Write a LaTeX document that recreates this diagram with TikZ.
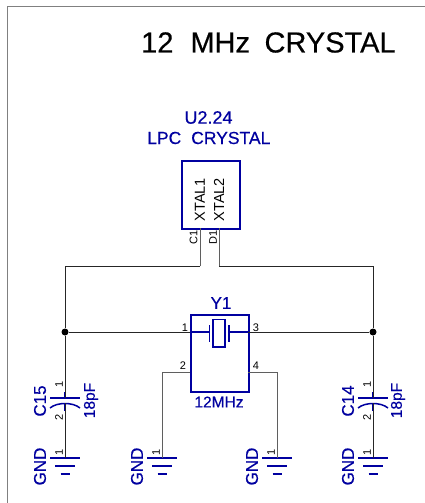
\documentclass[tikz,border=0pt]{standalone}
\usepackage{fontspec}
\setmainfont{Liberation Sans}
\newfontfamily\heavyf[FakeBold=0.4]{Liberation Sans}
\definecolor{sblue}{RGB}{0,0,160}
\definecolor{wiregray}{RGB}{95,95,95}
\newcommand{\wfs}[1]{\fontsize{#1}{#1}\selectfont}
\tikzset{
  x=1pt,y=-1pt,
  wire/.style={line width=1pt,black!85},
  pinwire/.style={line width=1pt,wiregray},
  sym/.style={line width=1.5pt,sblue},
  partbox/.style={draw=sblue,line width=1.8pt,fill=none,inner sep=0pt,anchor=north west},
  bluetxt/.style={text=sblue,inner sep=0pt,font=\heavyf\wfs{17}},
  pinnum/.style={text=black,inner sep=0pt,font=\wfs{11}},
  pinname/.style={text=black,inner sep=0pt,font=\wfs{14.5},rotate=90,anchor=west},
  junction/.style={circle,fill=black,inner sep=0pt,minimum size=7pt},
  gndv/.style={bluetxt,rotate=90},
}
\newcommand{\gndsym}[2]{% x, name
  \coordinate (#2) at (#1,458);
  \draw[sym] (#1-15,458) -- (#1+15,458);
  \draw[sym] (#1-10,466) -- (#1+10,466);
  \draw[sym] (#1-4.5,474) -- (#1+4.5,474);
  \node[pinnum,rotate=90] at (#1-6,452) {1};
  \node[gndv] at (#1-25,466.5) {GND};
}
\newcommand{\capsym}[4]{% x, name, ref, textx
  \coordinate (#2a) at (#1,398);
  \coordinate (#2b) at (#1,403);
  \draw[sym] (#1-15,398) -- (#1+15,398);
  \draw[sym] (#1-15,408) .. controls (#1-8,402) and (#1+8,402) .. (#1+15,408);
  \draw[sym] (#1,392) -- (#2a);
  \draw[sym] (#2b) -- (#1,411);
  \node[pinnum,rotate=90] at (#1-6,384) {1};
  \node[pinnum,rotate=90] at (#1-6,417) {2};
  \node[gndv] at (#1-25,401) {#3};
  \node[gndv,font=\heavyf\wfs{15.5}] at (#4,400.5) {18pF};
}
\begin{document}
\begin{tikzpicture}
\useasboundingbox (0,0) rectangle (425,503);
\fill[white] (0,0) rectangle (425,503);
% sheet frame
\coordinate (fa) at (7.5,503);
\coordinate (fb) at (7.5,6.5);
\coordinate (fc) at (425,6.5);
\draw[line width=1.6pt,black!50] (fa) -- (fb) -- (fc);
% title
\node[inner sep=0pt,text=black,anchor=west,font=\heavyf\wfs{29}] (title) at (141,42.5) {12\hspace{17pt}MHz\hspace{14.5pt}CRYSTAL};
% U2
\node[bluetxt,font=\heavyf\wfs{18}] (u2a) at (208.5,117.5) {U2.24};
\node[bluetxt,anchor=west,font=\heavyf\wfs{17.5}] (u2b) at (147,138) {LPC\hspace{10pt}CRYSTAL};
\node[partbox,minimum width=58pt,minimum height=68pt] (u2) at (181,160) {};
\node[pinname] (x1) at (200,221.5) {XTAL1};
\node[pinname] (x2) at (219,221.5) {XTAL2};
\coordinate (p1) at (200,228);
\coordinate (p2) at (219,228);
\coordinate (c1) at (200,266);
\coordinate (c2) at (219,266);
\node[pinnum,rotate=90] (lc1) at (193.5,237.5) {C1};
\node[pinnum,rotate=90] (ld1) at (213,237.5) {D1};
% Junctions
\node[junction] (ja) at (65,332) {};
\node[junction] (jb) at (373,332) {};
\coordinate (wl) at (65,266);
\coordinate (wr) at (373,266);
% Crystal
\node[bluetxt] (y1) at (221,303) {Y1};
\node[partbox,minimum width=58pt,minimum height=77pt] (y) at (190,314) {};
\node[bluetxt,font=\heavyf\wfs{15.5}] (ymhz) at (219,402) {12MHz};
\coordinate (y1l) at (190,332);
\coordinate (y3r) at (248,332);
\coordinate (y2l) at (190,372);
\coordinate (y4r) at (248,372);
\coordinate (pl) at (209.5,332);
\coordinate (pr) at (229,332);
\draw[sym] (y1l) -- (pl);
\draw[sym] (pr) -- (y3r);
\draw[sym] (209.5,325) -- (209.5,342);
\draw[sym] (229,325) -- (229,342);
\draw[sym] (213,319.5) rectangle (225,347);
\node[pinnum] at (185,328) {1};
\node[pinnum] at (256,328) {3};
\node[pinnum] at (183,366) {2};
\node[pinnum] at (256,366) {4};
% Symbols
\capsym{65}{capl}{C15}{91}
\capsym{373}{capr}{C14}{398}
\gndsym{65}{g1}
\gndsym{162}{g2}
\gndsym{277}{g3}
\gndsym{373}{g4}
% Wires
\draw[pinwire] (p1) -- (c1);
\draw[pinwire] (p2) -- (c2);
\draw[wire] (c1) -- (wl) -- (ja);
\draw[wire] (c2) -- (wr) -- (jb);
\draw[wire] (ja) -- (y1l);
\draw[wire] (y3r) -- (jb);
\draw[wire] (ja) -- (capla);
\draw[wire] (jb) -- (capra);
\draw[wire] (caplb) -- (g1);
\draw[wire] (caprb) -- (g4);
\draw[pinwire] (y2l) -- (162,372) -- (g2);
\draw[pinwire] (y4r) -- (277,372) -- (g3);
\end{tikzpicture}
\end{document}
